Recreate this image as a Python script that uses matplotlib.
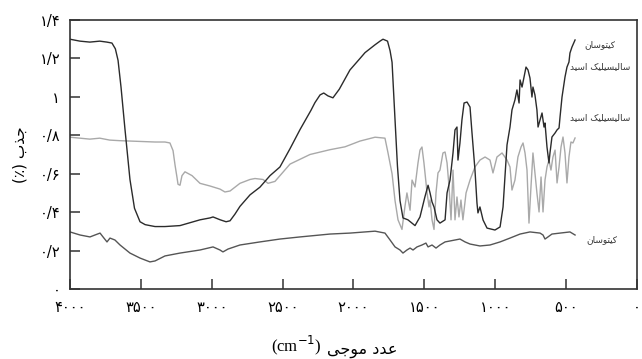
import matplotlib
matplotlib.use("Agg")
import matplotlib.pyplot as plt

# chitosan + salicylic acid (black)
cs_sa_wn = [4000, 3930, 3860, 3790, 3740, 3704, 3680, 3661, 3640, 3612, 3577, 3545, 3506, 3470,
            3436, 3400, 3330, 3224, 3083, 3012, 2991, 2940, 2899, 2871, 2836, 2801, 2730, 2660,
            2589, 2519, 2448, 2377, 2300, 2272, 2236, 2210, 2180, 2145, 2100, 2025, 1954, 1919,
            1850, 1813, 1792, 1760, 1742, 1728, 1707, 1690, 1672, 1651, 1616, 1566, 1531, 1496,
            1474, 1460, 1446, 1432, 1411, 1390, 1354, 1340, 1319, 1298, 1284, 1270, 1263, 1249,
            1235, 1220, 1199, 1178, 1164, 1143, 1129, 1122, 1108, 1086, 1058, 1002, 966, 945,
            931, 917, 896, 882, 861, 847, 832, 825, 811, 797, 783, 769, 755, 741, 734, 720, 706,
            698, 684, 670, 656, 649, 635, 621, 614, 600, 578, 564, 550, 543, 529, 508, 494, 480,
            473, 459, 437]
cs_sa_abs = [1.30, 1.29, 1.285, 1.29, 1.285, 1.28, 1.25, 1.19, 1.05, 0.83, 0.57, 0.42, 0.35, 0.335,
             0.33, 0.325, 0.325, 0.33, 0.36, 0.37, 0.375, 0.36, 0.35, 0.355, 0.39, 0.43, 0.49, 0.53,
             0.59, 0.635, 0.73, 0.83, 0.93, 0.97, 1.01, 1.02, 1.005, 0.995, 1.04, 1.14, 1.20, 1.23,
             1.27, 1.29, 1.30, 1.29, 1.24, 1.18, 0.88, 0.64, 0.46, 0.37, 0.36, 0.33, 0.375, 0.48,
             0.54, 0.50, 0.453, 0.427, 0.36, 0.343, 0.36, 0.50, 0.567, 0.708, 0.828, 0.843, 0.671, 0.76,
             0.88, 0.968, 0.973, 0.947, 0.812, 0.619, 0.448, 0.396, 0.427, 0.359, 0.317, 0.307, 0.323, 0.427,
             0.59, 0.75, 0.843, 0.932, 0.984, 1.036, 0.968, 1.088, 1.051, 1.103, 1.155, 1.14, 1.098, 0.999, 1.051, 1.010, 0.932,
             0.843, 0.88, 0.916, 0.843, 0.864, 0.739, 0.656, 0.708, 0.791, 0.812, 0.828, 0.838, 0.895, 0.999, 1.103, 1.155, 1.181,
             1.228, 1.259, 1.296]

# salicylic acid (light grey)
sa_wn = [4000, 3930, 3860, 3790, 3720, 3650, 3577, 3400, 3330, 3295, 3273, 3259, 3245, 3238, 3224,
         3210, 3189, 3139, 3083, 3012, 2942, 2907, 2871, 2836, 2801, 2730, 2695, 2638, 2603, 2554,
         2448, 2307, 2166, 2060, 1954, 1848, 1778, 1757, 1728, 1707, 1686, 1658, 1637, 1623, 1601,
         1587, 1566, 1545, 1531, 1517, 1503, 1481, 1467, 1460, 1446, 1432, 1418, 1404, 1390, 1369,
         1354, 1340, 1326, 1312, 1298, 1284, 1270, 1256, 1242, 1228, 1206, 1178, 1143, 1108, 1072,
         1037, 1016, 988, 952, 917, 896, 882, 861, 840, 818, 804, 790, 776, 762, 748, 734, 720, 706,
         691, 677, 663, 649, 635, 621, 607, 593, 578, 564, 550, 536, 522, 508, 494, 480, 466, 452, 437]
sa_abs = [0.79, 0.785, 0.78, 0.785, 0.775, 0.772, 0.77, 0.765, 0.765, 0.76, 0.72, 0.645, 0.58, 0.545, 0.54,
          0.59, 0.61, 0.59, 0.55, 0.536, 0.52, 0.505, 0.51, 0.53, 0.55, 0.57, 0.575, 0.57, 0.55, 0.56,
          0.65, 0.70, 0.725, 0.74, 0.77, 0.79, 0.785, 0.71, 0.60, 0.46, 0.36, 0.31, 0.43, 0.50, 0.41,
          0.567, 0.531, 0.656, 0.723, 0.739, 0.656, 0.50, 0.427, 0.463, 0.36, 0.31, 0.50, 0.604, 0.619, 0.708,
          0.713, 0.656, 0.531, 0.36, 0.619, 0.36, 0.479, 0.375, 0.463, 0.36, 0.50, 0.567, 0.635, 0.671, 0.687,
          0.671, 0.604, 0.687, 0.708, 0.671, 0.635, 0.515, 0.567, 0.687, 0.739, 0.76, 0.708, 0.619, 0.343, 0.531, 0.708, 0.604, 0.50,
          0.401, 0.583, 0.401, 0.567, 0.635, 0.671, 0.619, 0.687, 0.723, 0.552, 0.635, 0.739, 0.791, 0.708, 0.552, 0.687, 0.765, 0.76, 0.786]

# chitosan (dark grey)
cs_wn = [4000, 3929, 3859, 3824, 3788, 3767, 3739, 3718, 3683, 3647, 3577, 3506, 3436, 3400, 3330,
         3224, 3083, 2991, 2942, 2921, 2885, 2801, 2660, 2519, 2377, 2236, 2166, 2025, 1919, 1848,
         1778, 1742, 1707, 1672, 1651, 1623, 1601, 1580, 1552, 1517, 1489, 1474, 1446, 1418, 1390,
         1354, 1284, 1249, 1213, 1178, 1108, 1037, 966, 896, 825, 755, 684, 663, 649, 628, 600, 543, 473, 437]
cs_abs = [0.297, 0.281, 0.271, 0.281, 0.291, 0.271, 0.245, 0.265, 0.255, 0.229, 0.187, 0.161, 0.141, 0.146, 0.172,
          0.187, 0.203, 0.219, 0.203, 0.193, 0.208, 0.229, 0.245, 0.26, 0.271, 0.281, 0.286, 0.291, 0.297, 0.301,
          0.291, 0.255, 0.219, 0.203, 0.187, 0.203, 0.213, 0.203, 0.219, 0.229, 0.239, 0.219, 0.229, 0.213, 0.229,
          0.245, 0.255, 0.26, 0.245, 0.234, 0.224, 0.229, 0.245, 0.265, 0.286, 0.297, 0.291, 0.281, 0.260, 0.271, 0.286, 0.291, 0.297, 0.281]

x_ticks = [4000, 3500, 3000, 2500, 2000, 1500, 1000, 500, 0]
x_labels = ["۴۰۰۰", "۳۵۰۰", "۳۰۰۰", "۲۵۰۰", "۲۰۰۰", "۱۵۰۰", "۱۰۰۰", "۵۰۰", "۰"]
y_ticks = [0, 0.2, 0.4, 0.6, 0.8, 1.0, 1.2, 1.4]
y_labels = ["۰", "۰/۲", "۰/۴", "۰/۶", "۰/۸", "۱", "۱/۲", "۱/۴"]

# Persian strings in presentation forms, visual order (no shaping in matplotlib)
lbl_chitosan = "\uFEE5\uFE8E\uFEB3\uFEEE\uFE98\uFBFF\uFB90"
lbl_salicylic = "\uFEAA\uFBFF\uFEB3\uFE8D \uFB8F\uFBFF\uFEE0\uFBFF\uFEB4\uFBFF\uFEDF\uFE8E\uFEB3"
lbl_ylabel = "(\u066A) \uFE8F\uFEAC\uFE9F"
lbl_xlabel = "\uFBFD\uFE9F\uFEEE\uFEE3 \uFEA9\uFEAA\uFECB"

fig = plt.figure(figsize=(6.42, 3.59), dpi=100)
ax = fig.add_axes([70 / 642, 70 / 359, 567 / 642, 269 / 359])

ax.plot(sa_wn, sa_abs, color="#a9a9a9", lw=1.0)
ax.plot(cs_wn, cs_abs, color="#555555", lw=1.0)
ax.plot(cs_sa_wn, cs_sa_abs, color="#2b2b2b", lw=1.0)

ax.set_xlim(4000, 0)
ax.set_ylim(0, 1.4)
ax.set_xticks(x_ticks)
ax.set_xticklabels(x_labels, fontsize=10.5)
ax.set_yticks(y_ticks)
ax.set_yticklabels(y_labels, fontsize=10.5)
ax.tick_params(direction="in", length=7, width=1.1, color="#333333")
ax.tick_params(axis="x", pad=8)
ax.tick_params(axis="y", pad=7)
for s in ax.spines.values():
    s.set_linewidth(1.2)
    s.set_color("#333333")

# curve labels
ax.text(261, 1.27, lbl_chitosan, fontsize=6.5, ha="center", va="center", color="#333333")
ax.text(261, 1.155, lbl_salicylic, fontsize=6.5, ha="center", va="center", color="#333333")
ax.text(261, 0.89, lbl_salicylic, fontsize=6.5, ha="center", va="center", color="#333333")
ax.text(247, 0.255, lbl_chitosan, fontsize=6.5, ha="center", va="center", color="#333333")

fig.text(20 / 642, 1 - 155 / 359, lbl_ylabel, rotation=90, fontsize=11,
         ha="center", va="center")
fig.text(296 / 642, 1 - 345 / 359, "(cm$^{-1}$)", family="Liberation Serif",
         fontsize=12, ha="center", va="center")
fig.text(362 / 642, 1 - 350 / 359, lbl_xlabel, fontsize=11.5, ha="center", va="center")

fig.savefig("out.png", dpi=100)
